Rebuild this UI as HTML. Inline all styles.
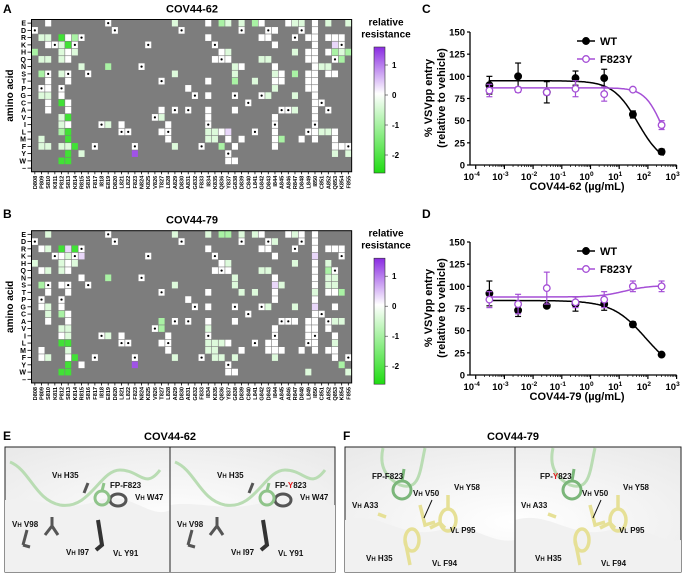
<!DOCTYPE html>
<html><head><meta charset="utf-8">
<style>
html,body{margin:0;padding:0;background:#fff;}
svg{display:block;font-family:"Liberation Sans",Arial,sans-serif;}
.b{font-weight:bold;}
</style></head>
<body>
<svg id="fig" width="685" height="574" viewBox="0 0 685 574" xmlns="http://www.w3.org/2000/svg">
<defs>
<linearGradient id="cbar" x1="0" y1="0" x2="0" y2="1">
<stop offset="0" stop-color="#8a2be2"/><stop offset="0.37" stop-color="#ffffff"/><stop offset="1" stop-color="#1fdc12"/>
</linearGradient>
<radialGradient id="surf" cx="0.5" cy="0.6" r="0.8">
<stop offset="0" stop-color="#ffffff"/><stop offset="1" stop-color="#e8e8e8"/>
</radialGradient>
</defs>
<g id="heatA"></g>
<g id="heatB"></g>
<g id="chartC"></g>
<g id="chartD"></g>

<text x="3" y="13" class="b" font-size="12">A</text>
<text x="3" y="218" class="b" font-size="12">B</text>
<text x="422" y="13" class="b" font-size="12">C</text>
<text x="422" y="218" class="b" font-size="12">D</text>
<text x="3" y="440" class="b" font-size="12">E</text>
<text x="343" y="440" class="b" font-size="12">F</text>

<!-- Panel E -->
<g>
<text x="170" y="440" class="b" font-size="11" text-anchor="middle">COV44-62</text>
<rect x="5" y="447" width="330" height="125" fill="url(#surf)" stroke="#222" stroke-width="1"/>
<path d="M5,500 C40,495 60,515 100,500 C130,490 150,520 170,510 L170,572 L5,572Z" fill="#f1f1f1"/>
<path d="M170,505 C200,500 230,515 270,500 C300,490 320,510 335,505 L335,572 L170,572Z" fill="#f1f1f1"/>
<line x1="170" y1="447" x2="170" y2="572" stroke="#222"/>
<path d="M10,462 C30,470 35,500 60,505 C90,510 100,470 120,470 C140,470 145,490 160,470" fill="none" stroke="#b9dcb3" stroke-width="3"/>
<path d="M175,462 C195,470 200,500 225,505 C255,510 265,470 285,470 C305,470 310,490 325,470" fill="none" stroke="#b9dcb3" stroke-width="3"/>
<g stroke="#555" stroke-width="3" fill="none">
<path d="M23,545 L27,530 M23,545 L30,547"/><path d="M45,535 L52,526 L58,535 M52,526 L52,517"/><path d="M84,493 L88,483"/><path d="M110,500 a8,6 0 1,0 16,0 a8,6 0 1,0 -16,0"/>
<path d="M188,545 L192,530 M188,545 L195,547"/><path d="M210,535 L217,526 L223,535 M217,526 L217,517"/><path d="M249,493 L253,483"/><path d="M275,500 a8,6 0 1,0 16,0 a8,6 0 1,0 -16,0"/>
</g>
<g stroke="#333" stroke-width="4" fill="none"><path d="M98,520 l4,25 l-6,5"/><path d="M263,520 l4,25 l-6,5"/></g>
<g stroke="#8fc48a" stroke-width="3" fill="none"><path d="M95,498 a7,7 0 1,0 14,0 a7,7 0 1,0 -14,0 M102,491 l2,-8"/><path d="M260,498 a7,7 0 1,0 14,0 a7,7 0 1,0 -14,0 M267,491 l2,-8"/></g>
<g class="b" font-size="8" fill="#111">
<text x="52" y="478">V<tspan font-size="6">H</tspan> H35</text>
<text x="110" y="488">FP-F823</text>
<text x="135" y="500">V<tspan font-size="6">H</tspan> W47</text>
<text x="12" y="527">V<tspan font-size="6">H</tspan> V98</text>
<text x="66" y="555">V<tspan font-size="6">H</tspan> I97</text>
<text x="113" y="556">V<tspan font-size="6">L</tspan> Y91</text>
<text x="217" y="478">V<tspan font-size="6">H</tspan> H35</text>
<text x="275" y="488">FP-<tspan fill="#e0191b">Y</tspan>823</text>
<text x="300" y="500">V<tspan font-size="6">H</tspan> W47</text>
<text x="177" y="527">V<tspan font-size="6">H</tspan> V98</text>
<text x="231" y="555">V<tspan font-size="6">H</tspan> I97</text>
<text x="278" y="556">V<tspan font-size="6">L</tspan> Y91</text>
</g>
</g>

<!-- Panel F -->
<g>
<text x="513" y="440" class="b" font-size="11" text-anchor="middle">COV44-79</text>
<rect x="345" y="447" width="336" height="125" fill="url(#surf)" stroke="#222" stroke-width="1"/>
<path d="M345,520 C380,510 400,540 440,530 C470,520 490,545 515,540 L515,572 L345,572Z" fill="#f1f1f1"/>
<path d="M515,520 C550,510 570,540 610,530 C640,520 660,545 681,540 L681,572 L515,572Z" fill="#f1f1f1"/>
<line x1="515" y1="447" x2="515" y2="572" stroke="#222"/>
<path d="M383,448 C378,470 390,480 400,485 C420,492 420,470 425,448" fill="none" stroke="#b9dcb3" stroke-width="3"/>
<path d="M553,448 C548,470 560,480 570,485 C590,492 590,470 595,448" fill="none" stroke="#b9dcb3" stroke-width="3"/>
<g stroke="#e6e096" stroke-width="3.5" fill="none">
<path d="M440,520 a8,11 0 1,0 16,0 a8,11 0 1,0 -16,0 M448,509 l0,-14"/><path d="M405,540 a7,11 0 1,0 14,0 a7,11 0 1,0 -14,0 l5,25"/><path d="M420,505 l5,20 l10,-3"/><path d="M430,528 l10,-5 l5,5"/><path d="M378,514 l8,3"/>
<path d="M610,520 a8,11 0 1,0 16,0 a8,11 0 1,0 -16,0 M618,509 l0,-14"/><path d="M575,540 a7,11 0 1,0 14,0 a7,11 0 1,0 -14,0 l5,25"/><path d="M590,505 l5,20 l10,-3"/><path d="M600,528 l10,-5 l5,5"/><path d="M548,514 l8,3"/>
</g>
<g stroke="#7bb67a" stroke-width="3" fill="none"><path d="M393,490 a9,9 0 1,0 18,0 a9,9 0 1,0 -18,0 M402,481 l2,-12"/><path d="M563,490 a9,9 0 1,0 18,0 a9,9 0 1,0 -18,0 M572,481 l2,-12"/></g>
<g class="b" font-size="8" fill="#111">
<text x="372" y="479">FP-F823</text>
<text x="454" y="490">V<tspan font-size="6">H</tspan> Y58</text>
<text x="413" y="496">V<tspan font-size="6">H</tspan> V50</text>
<text x="352" y="508">V<tspan font-size="6">H</tspan> A33</text>
<text x="450" y="533">V<tspan font-size="6">L</tspan> P95</text>
<text x="366" y="561">V<tspan font-size="6">H</tspan> H35</text>
<text x="432" y="566">V<tspan font-size="6">L</tspan> F94</text>
<text x="540" y="479">FP-<tspan fill="#e0191b">Y</tspan>823</text>
<text x="623" y="490">V<tspan font-size="6">H</tspan> Y58</text>
<text x="582" y="496">V<tspan font-size="6">H</tspan> V50</text>
<text x="521" y="508">V<tspan font-size="6">H</tspan> A33</text>
<text x="619" y="533">V<tspan font-size="6">L</tspan> P95</text>
<text x="535" y="561">V<tspan font-size="6">H</tspan> H35</text>
<text x="601" y="566">V<tspan font-size="6">L</tspan> F94</text>
</g>
<g stroke="#111" stroke-width="1"><line x1="432" y1="500" x2="424" y2="518"/><line x1="601" y1="500" x2="593" y2="518"/></g>
</g>
</svg>
<script>
// ---------- Heatmap data ----------
const residues = ["D808","P809","S810","K811","P812","S813","K814","R815","S816","F817","I818","E819","D820","L821","L822","F823","N824","K825","V826","T827","L828","A829","D830","A831","G832","F833","I834","K835","Q836","Y837","G838","D839","C840","L841","G842","D843","I844","A845","A846","R847","D848","L849","I850","C851","A852","Q853","K854","F855"];
const aminoAcids = ["E","D","R","K","H","Q","N","S","T","P","G","C","A","V","I","L","M","F","Y","W","–"];
const levelValues = {w:0, l:-0.4, g:-1.0, G:-2.2, p:0.3, P:1.3};
const colsA = ["H:g","R:l,Q:l,S:g,G:l,M:l,F:l","E:w,R:l,K:w,Q:l,T:w,P:w,G:l,C:w,A:w,F:l","",
"R:G,K:l,H:l,Q:l,S:l,G:w,C:G,V:l,I:l,L:g,F:l,W:G","R:w,K:G,H:w,Q:w,T:w,C:w,A:w,V:G,I:w,L:G,M:G,F:l,Y:G,W:G","R:g,H:l,F:G","N:l,Y:l","","","","N:g,I:l","","I:w","","Y:P","","","",
"A:w,V:l,L:w","I:w,M:w","E:l,S:l,F:l","","P:w","","","E:w,R:w,T:w,G:w,A:w,V:w,L:l,M:l","Q:w,L:l,M:l","E:g,H:w,L:w,F:g","E:l,H:l,Q:w,L:p,M:w,W:w","N:l,S:l,T:g,A:w,F:w,W:w","E:l,N:w,M:w","","E:g,T:l","E:w,R:w,Q:l","R:w,Q:l,G:l","D:w,K:w,N:w,S:l,T:w,P:l,V:w,L:w,M:w,F:w","S:w,T:w,M:g","E:w","E:l,H:l,S:g,G:l,A:l","E:l,M:w","R:w,H:w,Q:w,S:w,T:w,P:w",
"E:w,D:w,R:w,K:w,H:w,Q:w,N:w,S:w,T:w,P:w,G:w,C:w,A:w,V:w,L:w,M:w","N:l,L:l","E:l,R:w,H:w,S:w,N:l,L:l","R:w,K:p,H:g,S:w,L:w,M:w,F:w,Y:l","R:w,H:l,Q:g,F:w","E:l,H:g,Y:l"];
const colsB = ["H:l","R:w,Q:w,S:g,G:w,M:w,F:w","E:l,R:l,Q:l,T:w,G:l,C:l,A:w,F:l","",
"R:G,K:w,H:l,Q:l,S:w,G:w,C:g,V:l,I:w,L:G,W:G","R:p,K:l,H:w,Q:w,T:w,C:w,A:w,V:l,I:l,L:G,M:l,F:w,Y:G,W:G","R:G,K:w,H:l,F:G","K:p,N:w,Y:w","","","","N:g,I:l","","I:w","","Y:P","","","",
"A:g,V:g,L:w","I:w,M:w","E:l,S:l,F:l","","P:w","","","E:l,R:w,T:w,G:w,A:w,V:l,L:l,M:l","Q:w,L:l,M:l,F:l","E:g,H:w,L:l,F:l","E:g,H:l,Q:w,L:w,Y:w,W:w","N:l,S:l,A:w,F:l,W:w","E:l,T:l,M:w","","E:l,T:l","E:w,R:w,Q:l","R:w,Q:l,G:l,L:w,M:w","D:l,K:w,N:w,S:p,T:w,P:w,V:w,L:w,M:w,F:l","S:l,M:w","E:w,A:w","E:l,H:l,G:l,A:w","E:w,D:w,M:w","A:w,V:w,I:w,W:l",
"E:w,D:w,R:w,K:p,H:w,Q:w,N:w,S:w,T:l,P:w,G:p,C:w,A:w,V:w,L:w,M:w","","R:w,H:l,Q:g,N:l,S:l,T:w,A:w,V:w,M:w","R:w,N:l,S:l,T:w,G:w,A:l,I:w,L:l,M:w,F:w","R:w,T:g,A:l,Y:g","W:l"];
const cbarTicks = [1,0,-1,-2];

// ---------- Dose-response data ----------
const doses = [0.0003,0.003,0.03,0.3,3,30,300];
const cWT = [90,100,82,98,98,57,15];
const cWTerr = [10,15,12,8,10,4,3];
const cMut = [84,85,82,86,80,85,45];
const cMutErr = [7,3,3,9,8,2,5];
const dWT = [92,73,78,80,80,57,23];
const dWTerr = [14,7,2,8,7,3,1];
const dMut = [85,80,98,82,85,100,100];
const dMutErr = [9,11,18,6,9,6,6];
const yTicks = [0,25,50,75,100,125,150];
const xTickExps = [-4,-3,-2,-1,0,1,2,3];
const cWTfit = [95,0,45,1.0];
const cMutFit = [87,0,316,1.41];
const dWTfit = [84,0,82,0.75];
const dMutFit = [88,101,15,1.0];

const NS="http://www.w3.org/2000/svg";
function mk(parent,tag,attrs,text){const e=document.createElementNS(NS,tag);for(const k in attrs)e.setAttribute(k,attrs[k]);if(text!==undefined)e.textContent=text;parent.appendChild(e);return e;}
function lerp(a,b,t){return Math.round(a+(b-a)*t);}
function colorOf(v){
  if(v>=0){const t=Math.min(v/1.6,1);return `rgb(${lerp(255,138,t)},${lerp(255,43,t)},${lerp(255,226,t)})`;}
  const t=Math.min(-v/2.6,1);return `rgb(${lerp(255,31,t)},${lerp(255,220,t)},${lerp(255,18,t)})`;
}

function heatmap(gid,cols,y0,title){
  const g=document.getElementById(gid);
  const x0=31.5,cw=6.67,rh=7.25,top=y0;
  const xs=i=>x0+i*cw, ys=j=>top+j*rh;
  const t=mk(g,'text',{x:192,y:top-7,'text-anchor':'middle','font-size':11,'font-weight':'bold'},title);
  
  
  const bg=mk(g,'rect',{x:x0,y:top,width:cw*residues.length,height:rh*aminoAcids.length,fill:'#7d7d7d'});
  
  
  cols.forEach((s,i)=>{
    const map={};
    if(s) s.split(',').forEach(p=>{const [a,c]=p.split(':');map[a]=levelValues[c];});
    const wt=residues[i][0];map[wt]=0;
    aminoAcids.forEach((aa,j)=>{
      if(map[aa]===undefined)return;
      const r=mk(g,'rect',{x:xs(i)+0.3,y:ys(j)+0.3,width:cw-0.6,height:rh-0.6,fill:colorOf(map[aa])});
      
      
      if(aa===wt){const d=mk(g,'circle',{cx:xs(i)+cw/2,cy:ys(j)+rh/2,r:1.1,fill:'#000'});
        
        }
    });
    const lx=xs(i)+cw/2+2;
    const lb=mk(g,'text',{x:lx,y:top+rh*aminoAcids.length+4,'font-size':5.6,'font-weight':'bold','text-anchor':'end',transform:`rotate(-90 ${lx} ${top+rh*aminoAcids.length+4})`},residues[i]);
    
    
    mk(g,'line',{x1:xs(i)+cw/2,x2:xs(i)+cw/2,y1:top+rh*aminoAcids.length,y2:top+rh*aminoAcids.length+2.5,stroke:'#000','stroke-width':0.8});
  });
  aminoAcids.forEach((aa,j)=>{
    const tl=mk(g,'text',{x:26,y:ys(j)+rh/2+2.5,'font-size':7,'font-weight':'bold','text-anchor':'end'},aa);
    
    
    mk(g,'line',{x1:27.5,x2:x0,y1:ys(j)+rh/2,y2:ys(j)+rh/2,stroke:'#000','stroke-width':0.8});
  });
  mk(g,'rect',{x:x0,y:top,width:cw*residues.length,height:rh*aminoAcids.length,fill:'none',stroke:'#000','stroke-width':1});
  const cy=top+rh*aminoAcids.length/2;
  const yt=mk(g,'text',{x:13,y:cy,'font-size':10,'font-weight':'bold','text-anchor':'middle',transform:`rotate(-90 13 ${cy})`},'amino acid');
  
  
  const cbTop=top+27.5,cbH=126,vTop=1.6,vBot=-2.6;
  const cb=mk(g,'rect',{x:374,y:cbTop,width:11,height:cbH,fill:'url(#cbar)',stroke:'#333','stroke-width':0.6});
  
  
  const ct1=mk(g,'text',{x:386,y:top+6,'font-size':10,'font-weight':'bold','text-anchor':'middle'},'relative');
  
  
  mk(g,'text',{x:386,y:top+18,'font-size':10,'font-weight':'bold','text-anchor':'middle'},'resistance');
  cbarTicks.forEach(v=>{
    const y=cbTop+(vTop-v)/(vTop-vBot)*cbH;
    mk(g,'line',{x1:385,x2:388,y1:y,y2:y,stroke:'#333','stroke-width':0.6});
    const tk=mk(g,'text',{x:392,y:y+3,'font-size':8,'font-weight':'bold'},String(v));
    
    
  });
}
heatmap('heatA',colsA,19.5,'COV44-62');
heatmap('heatB',colsB,230.7,'COV44-79');

function fourPL(p,x){return p[1]+(p[0]-p[1])/(1+Math.pow(x/p[2],p[3]));}
function chart(gid,dy,wt,wtErr,mut,mutErr,wtFit,mutFit,xtitle){
  const g=document.getElementById(gid);
  const X=x=>475.7+(Math.log10(x)+4)*28.7;
  const Y=v=>dy+165-v*133/150;
  const ax=470;
  mk(g,'line',{x1:ax,x2:ax,y1:Y(150),y2:Y(0),stroke:'#000','stroke-width':1.3});
  mk(g,'line',{x1:ax,x2:X(1000),y1:Y(0),y2:Y(0),stroke:'#000','stroke-width':1.3});
  yTicks.forEach(v=>{
    mk(g,'line',{x1:ax-3,x2:ax,y1:Y(v),y2:Y(v),stroke:'#000','stroke-width':1.2});
    const t=mk(g,'text',{x:ax-5,y:Y(v)+3.5,'font-size':9.5,'font-weight':'bold','text-anchor':'end'},String(v));
    
    
  });
  xTickExps.forEach(e=>{
    const x=X(Math.pow(10,e));
    mk(g,'line',{x1:x,x2:x,y1:Y(0),y2:Y(0)+4,stroke:'#000','stroke-width':1.2});
    if(e<3)for(let k=2;k<10;k++){const xm=X(k*Math.pow(10,e));mk(g,'line',{x1:xm,x2:xm,y1:Y(0),y2:Y(0)+2,stroke:'#000','stroke-width':0.7});}
    const t=mk(g,'text',{x:x-4,y:Y(0)+15,'font-size':9.5,'font-weight':'bold','text-anchor':'middle'});
    
    
    mk(t,'tspan',{},'10');
    mk(t,'tspan',{dy:-4,'font-size':6.5},String(e));
  });
  const xt=mk(g,'text',{x:577,y:dy+190,'font-size':11,'font-weight':'bold','text-anchor':'middle'},xtitle);
  
  
  const cy=dy+98;
  const yt1=mk(g,'text',{x:432,y:cy,'font-size':11,'font-weight':'bold','text-anchor':'middle',transform:`rotate(-90 432 ${cy})`},'% VSVpp entry');
  
  
  mk(g,'text',{x:445,y:cy,'font-size':11,'font-weight':'bold','text-anchor':'middle',transform:`rotate(-90 445 ${cy})`},'(relative to vehicle)');
  const series=[[wt,wtErr,wtFit,'#000',true,'series-wt'],[mut,mutErr,mutFit,'#a54fd6',false,'series-f823y']];
  series.forEach(([vals,errs,fit,col,filled,name])=>{
    let d='';
    const lo=-3.55,hi=2.55;
    for(let i=0;i<=140;i++){const lx=lo+i*(hi-lo)/140;const x=Math.pow(10,lx);d+=(i?'L':'M')+X(x).toFixed(1)+','+Y(fourPL(fit,x)).toFixed(1);}
    const p=mk(g,'path',{d:d,fill:'none',stroke:col,'stroke-width':1.5});
    
    
    vals.forEach((v,i)=>{
      const x=X(doses[i]);
      mk(g,'line',{x1:x,x2:x,y1:Y(v-errs[i]),y2:Y(v+errs[i]),stroke:col,'stroke-width':1.2});
      mk(g,'line',{x1:x-3,x2:x+3,y1:Y(v-errs[i]),y2:Y(v-errs[i]),stroke:col,'stroke-width':1.2});
      mk(g,'line',{x1:x-3,x2:x+3,y1:Y(v+errs[i]),y2:Y(v+errs[i]),stroke:col,'stroke-width':1.2});
      const c=mk(g,'circle',{cx:x,cy:Y(v),r:3.3,fill:filled?col:'#fff',stroke:col,'stroke-width':1.3});
      
      
    });
  });
  [['WT','#000',true,dy+41],['F823Y','#a54fd6',false,dy+59]].forEach(([lab,col,filled,y])=>{
    mk(g,'line',{x1:577,x2:595,y1:y,y2:y,stroke:col,'stroke-width':1.5});
    mk(g,'circle',{cx:586,cy:y,r:3.3,fill:filled?col:'#fff',stroke:col,'stroke-width':1.3});
    const t=mk(g,'text',{x:600,y:y+4,'font-size':11,'font-weight':'bold'},lab);
    
    
  });
}
chart('chartC',0,cWT,cWTerr,cMut,cMutErr,cWTfit,cMutFit,'COV44-62 (µg/mL)');
chart('chartD',210,dWT,dWTerr,dMut,dMutErr,dWTfit,dMutFit,'COV44-79 (µg/mL)');
</script>
</body></html>
